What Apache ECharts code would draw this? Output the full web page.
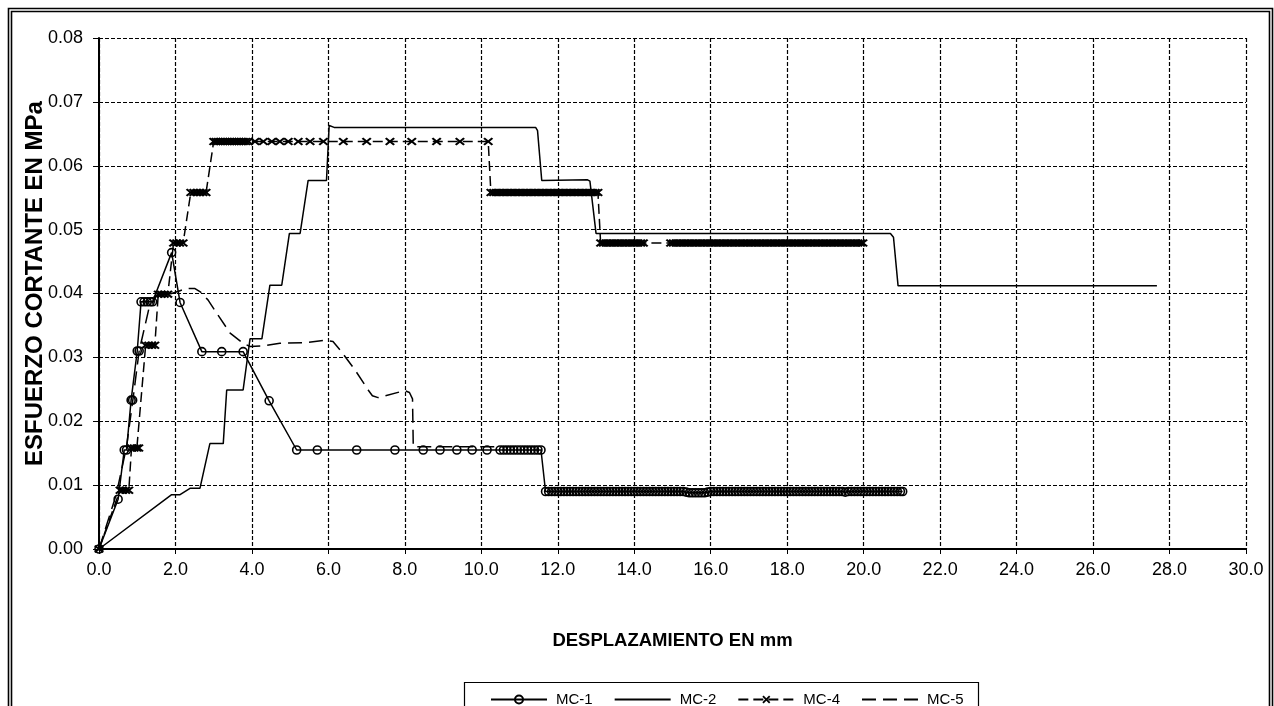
<!DOCTYPE html>
<html>
<head>
<meta charset="utf-8">
<script src="https://cdn.jsdelivr.net/npm/echarts@6/dist/echarts.min.js"></script>
<style>
  html, body { margin: 0; padding: 0; background: #fff; }
  #chart { width: 1274px; height: 706px; }
</style>
</head>
<body>
<div id="chart"></div>
<script>
// Axis ticks
const xTicks = { min: 0, max: 30, step: 2 };
const yTicks = { min: 0, max: 0.08, step: 0.01 };

const seriesNames = ['MC-1', 'MC-2', 'MC-4', 'MC-5'];

// MC-1: [desplazamiento mm, esfuerzo MPa]
const mc1 = [
  [0, 0], [0.50, 0.0078], [0.66, 0.0155], [0.72, 0.0155], [0.84, 0.0233], [0.88, 0.0233],
  [1.00, 0.0310], [1.05, 0.0310], [1.10, 0.0387], [1.18, 0.0387], [1.26, 0.0387], [1.34, 0.0387], [1.40, 0.0387],
  [1.90, 0.0464], [2.12, 0.0386], [2.69, 0.0309], [3.21, 0.0309], [3.77, 0.0309], [4.45, 0.0232],
  [5.17, 0.0155], [5.71, 0.0155], [6.74, 0.0155], [7.74, 0.0155], [8.48, 0.0155], [8.92, 0.0155],
  [9.36, 0.0155], [9.76, 0.0155], [10.15, 0.0155],
  [10.49, 0.0155], [10.58, 0.0155], [10.67, 0.0155], [10.76, 0.0155], [10.85, 0.0155], [10.94, 0.0155],
  [11.03, 0.0155], [11.12, 0.0155], [11.21, 0.0155], [11.30, 0.0155], [11.39, 0.0155], [11.48, 0.0155], [11.56, 0.0155],
  [11.68, 0.0090], [11.76, 0.0090], [11.84, 0.0090], [11.92, 0.0090], [12.00, 0.0090], [12.08, 0.0090],
  [12.16, 0.0090], [12.24, 0.0090], [12.32, 0.0090], [12.40, 0.0090], [12.48, 0.0090], [12.56, 0.0090],
  [12.64, 0.0090], [12.72, 0.0090], [12.80, 0.0090], [12.88, 0.0090], [12.96, 0.0090], [13.04, 0.0090],
  [13.12, 0.0090], [13.20, 0.0090], [13.28, 0.0090], [13.36, 0.0090], [13.44, 0.0090], [13.52, 0.0090],
  [13.60, 0.0090], [13.68, 0.0090], [13.76, 0.0090], [13.84, 0.0090], [13.92, 0.0090], [14.00, 0.0090],
  [14.08, 0.0090], [14.16, 0.0090], [14.24, 0.0090], [14.32, 0.0090], [14.40, 0.0090], [14.48, 0.0090],
  [14.56, 0.0090], [14.64, 0.0090], [14.72, 0.0090], [14.80, 0.0090], [14.88, 0.0090], [14.96, 0.0090],
  [15.04, 0.0090], [15.12, 0.0090], [15.20, 0.0090], [15.28, 0.0090], [15.36, 0.0089], [15.44, 0.0088],
  [15.52, 0.0088], [15.60, 0.0088], [15.68, 0.0088], [15.76, 0.0088], [15.84, 0.0088], [15.92, 0.0089],
  [16.00, 0.0090], [16.08, 0.0090], [16.16, 0.0090], [16.24, 0.0090], [16.32, 0.0090], [16.40, 0.0090],
  [16.48, 0.0090], [16.56, 0.0090], [16.64, 0.0090], [16.72, 0.0090], [16.80, 0.0090], [16.88, 0.0090],
  [16.96, 0.0090], [17.04, 0.0090], [17.12, 0.0090], [17.20, 0.0090], [17.28, 0.0090], [17.36, 0.0090],
  [17.44, 0.0090], [17.52, 0.0090], [17.60, 0.0090], [17.68, 0.0090], [17.76, 0.0090], [17.84, 0.0090],
  [17.92, 0.0090], [18.00, 0.0090], [18.08, 0.0090], [18.16, 0.0090], [18.24, 0.0090], [18.32, 0.0090],
  [18.40, 0.0090], [18.48, 0.0090], [18.56, 0.0090], [18.64, 0.0090], [18.72, 0.0090], [18.80, 0.0090],
  [18.88, 0.0090], [18.96, 0.0090], [19.04, 0.0090], [19.12, 0.0090], [19.20, 0.0090], [19.28, 0.0090],
  [19.36, 0.0090], [19.44, 0.0090], [19.52, 0.0089], [19.60, 0.0090], [19.68, 0.0090], [19.76, 0.0090],
  [19.84, 0.0090], [19.92, 0.0090], [20.00, 0.0090], [20.08, 0.0090], [20.16, 0.0090], [20.24, 0.0090],
  [20.32, 0.0090], [20.40, 0.0090], [20.48, 0.0090], [20.56, 0.0090], [20.64, 0.0090], [20.72, 0.0090],
  [20.80, 0.0090], [20.88, 0.0090], [20.96, 0.0090], [21.02, 0.0090]
];

// MC-2
const mc2 = [
  [0, 0], [1.90, 0.0085], [2.12, 0.0085], [2.38, 0.0095], [2.64, 0.0095], [2.90, 0.0165], [3.25, 0.0165],
  [3.34, 0.0249], [3.77, 0.0249], [3.95, 0.0329], [4.26, 0.0329], [4.47, 0.0413], [4.78, 0.0413],
  [4.98, 0.0494], [5.26, 0.0494], [5.47, 0.0577], [5.95, 0.0577], [6.02, 0.0663], [6.15, 0.0660],
  [11.42, 0.0660], [11.47, 0.0655], [11.58, 0.0577], [12.78, 0.0578], [12.84, 0.0576], [13.00, 0.0494],
  [20.70, 0.0494], [20.78, 0.0488], [20.90, 0.0412], [27.67, 0.0412]
];

// MC-4
const mc4 = [
  [0, 0], [0.55, 0.0092], [0.62, 0.0092], [0.70, 0.0092], [0.78, 0.0092],
  [0.85, 0.0158], [0.92, 0.0158], [0.99, 0.0158], [1.04, 0.0158],
  [1.22, 0.0319], [1.30, 0.0319], [1.38, 0.0319], [1.46, 0.0319],
  [1.55, 0.0399], [1.63, 0.0399], [1.71, 0.0399], [1.80, 0.0399],
  [1.95, 0.0479], [2.03, 0.0479], [2.11, 0.0479], [2.20, 0.0479],
  [2.40, 0.0558], [2.48, 0.0558], [2.56, 0.0558], [2.64, 0.0558], [2.72, 0.0558], [2.80, 0.0558],
  [3.00, 0.0638], [3.06, 0.0638], [3.12, 0.0638], [3.18, 0.0638], [3.24, 0.0638], [3.30, 0.0638],
  [3.36, 0.0638], [3.42, 0.0638], [3.48, 0.0638], [3.54, 0.0638], [3.60, 0.0638], [3.66, 0.0638],
  [3.72, 0.0638], [3.78, 0.0638], [3.84, 0.0638], [3.91, 0.0638], [4.08, 0.0638], [4.30, 0.0638],
  [4.52, 0.0638], [4.73, 0.0638], [4.95, 0.0638], [5.21, 0.0638], [5.52, 0.0638], [5.87, 0.0638],
  [6.39, 0.0638], [7.00, 0.0638], [7.61, 0.0638], [8.18, 0.0638], [8.83, 0.0638], [9.44, 0.0638], [10.18, 0.0638],
  [10.25, 0.0558], [10.32, 0.0558], [10.39, 0.0558], [10.46, 0.0558], [10.53, 0.0558], [10.60, 0.0558],
  [10.67, 0.0558], [10.74, 0.0558], [10.81, 0.0558], [10.88, 0.0558], [10.95, 0.0558], [11.02, 0.0558],
  [11.09, 0.0558], [11.16, 0.0558], [11.23, 0.0558], [11.30, 0.0558], [11.37, 0.0558], [11.44, 0.0558],
  [11.51, 0.0558], [11.58, 0.0558], [11.65, 0.0558], [11.72, 0.0558], [11.79, 0.0558], [11.86, 0.0558],
  [11.93, 0.0558], [12.00, 0.0558], [12.07, 0.0558], [12.14, 0.0558], [12.21, 0.0558], [12.28, 0.0558],
  [12.35, 0.0558], [12.42, 0.0558], [12.49, 0.0558], [12.56, 0.0558], [12.63, 0.0558], [12.70, 0.0558],
  [12.77, 0.0558], [12.84, 0.0558], [12.91, 0.0558], [12.98, 0.0558], [13.05, 0.0558],
  [13.12, 0.0479], [13.19, 0.0479], [13.26, 0.0479], [13.33, 0.0479], [13.40, 0.0479], [13.47, 0.0479],
  [13.54, 0.0479], [13.61, 0.0479], [13.68, 0.0479], [13.75, 0.0479], [13.82, 0.0479], [13.89, 0.0479],
  [13.96, 0.0479], [14.03, 0.0479], [14.10, 0.0479], [14.17, 0.0479], [14.24, 0.0479],
  [14.95, 0.0479], [15.02, 0.0479], [15.09, 0.0479], [15.16, 0.0479], [15.23, 0.0479], [15.30, 0.0479],
  [15.37, 0.0479], [15.44, 0.0479], [15.51, 0.0479], [15.58, 0.0479], [15.65, 0.0479], [15.72, 0.0479],
  [15.79, 0.0479], [15.86, 0.0479], [15.93, 0.0479], [16.00, 0.0479], [16.07, 0.0479], [16.14, 0.0479],
  [16.21, 0.0479], [16.28, 0.0479], [16.35, 0.0479], [16.42, 0.0479], [16.49, 0.0479], [16.56, 0.0479],
  [16.63, 0.0479], [16.70, 0.0479], [16.77, 0.0479], [16.84, 0.0479], [16.91, 0.0479], [16.98, 0.0479],
  [17.05, 0.0479], [17.12, 0.0479], [17.19, 0.0479], [17.26, 0.0479], [17.33, 0.0479], [17.40, 0.0479],
  [17.47, 0.0479], [17.54, 0.0479], [17.61, 0.0479], [17.68, 0.0479], [17.75, 0.0479], [17.82, 0.0479],
  [17.89, 0.0479], [17.96, 0.0479], [18.03, 0.0479], [18.10, 0.0479], [18.17, 0.0479], [18.24, 0.0479],
  [18.31, 0.0479], [18.38, 0.0479], [18.45, 0.0479], [18.52, 0.0479], [18.59, 0.0479], [18.66, 0.0479],
  [18.73, 0.0479], [18.80, 0.0479], [18.87, 0.0479], [18.94, 0.0479], [19.01, 0.0479], [19.08, 0.0479],
  [19.15, 0.0479], [19.22, 0.0479], [19.29, 0.0479], [19.36, 0.0479], [19.43, 0.0479], [19.50, 0.0479],
  [19.57, 0.0479], [19.64, 0.0479], [19.71, 0.0479], [19.78, 0.0479], [19.85, 0.0479], [19.92, 0.0479], [19.98, 0.0479]
];

// MC-5
const mc5 = [
  [0, 0], [0.45, 0.0085], [0.72, 0.0160], [0.90, 0.0240], [1.05, 0.0310], [1.30, 0.0375], [1.50, 0.0396],
  [1.90, 0.0400], [2.10, 0.0404], [2.30, 0.0408], [2.50, 0.0408], [2.66, 0.0402], [2.85, 0.0390],
  [3.08, 0.0369], [3.43, 0.0338], [3.77, 0.0322], [3.95, 0.0317], [4.30, 0.0318], [4.73, 0.0322],
  [5.39, 0.0323], [5.91, 0.0327], [6.12, 0.0325], [6.30, 0.0312], [6.70, 0.0280], [7.04, 0.0249],
  [7.15, 0.0240], [7.30, 0.0237], [8.00, 0.0248], [8.12, 0.0245], [8.20, 0.0235], [8.22, 0.0160],
  [11.50, 0.0160]
];

// X-shaped marker with heavy arms
const crossSymbol = 'path://M0,1.6L1.6,0L5,3.4L8.4,0L10,1.6L6.6,5L10,8.4L8.4,10L5,6.6L1.6,10L0,8.4L3.4,5Z';
const FONT = '"Liberation Sans", Arial, sans-serif';
const NONE = 'rgba(0,0,0,0)';

const chart = echarts.init(document.getElementById('chart'), null, { renderer: 'canvas' });

chart.setOption({
  animation: false,
  backgroundColor: '#fff',
  textStyle: { fontFamily: FONT, color: '#000' },
  grid: { left: 99, top: 38, width: 1147, height: 511, containLabel: false },
  xAxis: {
    type: 'value',
    min: xTicks.min, max: xTicks.max, interval: xTicks.step,
    name: 'DESPLAZAMIENTO EN mm',
    nameLocation: 'middle',
    nameGap: 82,
    nameMoveOverlap: false,
    nameTextStyle: { fontFamily: FONT, fontSize: 18.5, fontWeight: 'bold', color: '#000' },
    axisLine: { onZero: false, lineStyle: { color: '#000', width: 2 } },
    axisTick: { show: true, length: 5, lineStyle: { color: '#000', width: 1 } },
    axisLabel: { margin: 12, fontFamily: FONT, fontSize: 18, color: '#000',
      formatter: v => v.toFixed(1) },
    splitLine: { show: true, lineStyle: { color: '#000', width: 1.2, type: [4, 2] } }
  },
  yAxis: {
    type: 'value',
    min: yTicks.min, max: yTicks.max, interval: yTicks.step,
    name: 'ESFUERZO CORTANTE EN MPa',
    nameLocation: 'middle',
    nameGap: 52,
    nameMoveOverlap: false,
    nameTextStyle: { fontFamily: FONT, fontSize: 24, fontWeight: 'bold', color: '#000',
      padding: [0, 0, 0, 20] },
    axisLine: { onZero: false, lineStyle: { color: '#000', width: 2 } },
    axisTick: { show: true, length: 6, lineStyle: { color: '#000', width: 1 } },
    axisLabel: { margin: 16, fontFamily: FONT, fontSize: 18, color: '#000',
      formatter: v => v.toFixed(2) },
    splitLine: { show: true, lineStyle: { color: '#000', width: 1.2, type: [4, 2] } }
  },
  legend: {
    data: seriesNames,
    left: 490,
    top: 692,
    padding: 0,
    itemWidth: 56,
    itemHeight: 10,
    itemGap: 21,
    textStyle: { fontFamily: FONT, fontSize: 15, color: '#000', padding: [0, 0, 0, 4] }
  },
  graphic: [
    { type: 'rect', silent: true, z: 100,
      shape: { x: 8.5, y: 8.5, width: 1264, height: 720 },
      style: { fill: 'none', stroke: '#000', lineWidth: 1.6 } },
    { type: 'rect', silent: true, z: 100,
      shape: { x: 11.5, y: 11.5, width: 1258, height: 720 },
      style: { fill: 'none', stroke: '#000', lineWidth: 1.6 } },
    { type: 'rect', silent: true, z: 100,
      shape: { x: 464.5, y: 682.5, width: 514, height: 40 },
      style: { fill: 'none', stroke: '#000', lineWidth: 1.2 } }
  ],
  series: [
    {
      name: 'MC-1', type: 'line', data: mc1,
      symbol: 'circle', symbolSize: 8, showAllSymbol: true,
      itemStyle: { color: NONE, borderColor: '#000', borderWidth: 1.6 },
      lineStyle: { color: '#000', width: 1.5 },
      z: 4
    },
    {
      name: 'MC-2', type: 'line', data: mc2,
      symbol: 'none',
      itemStyle: { color: NONE, borderColor: NONE },
      lineStyle: { color: '#000', width: 1.5 },
      z: 3
    },
    {
      name: 'MC-4', type: 'line', data: mc4,
      symbol: crossSymbol, symbolSize: [10, 8], showAllSymbol: true,
      itemStyle: { color: '#000' },
      lineStyle: { color: '#000', width: 1.5, type: [10, 5] },
      z: 3
    },
    {
      name: 'MC-5', type: 'line', data: mc5,
      symbol: 'none',
      itemStyle: { color: NONE, borderColor: NONE },
      lineStyle: { color: '#000', width: 1.5, type: [14, 7] },
      z: 2
    }
  ]
});
</script>
</body>
</html>
